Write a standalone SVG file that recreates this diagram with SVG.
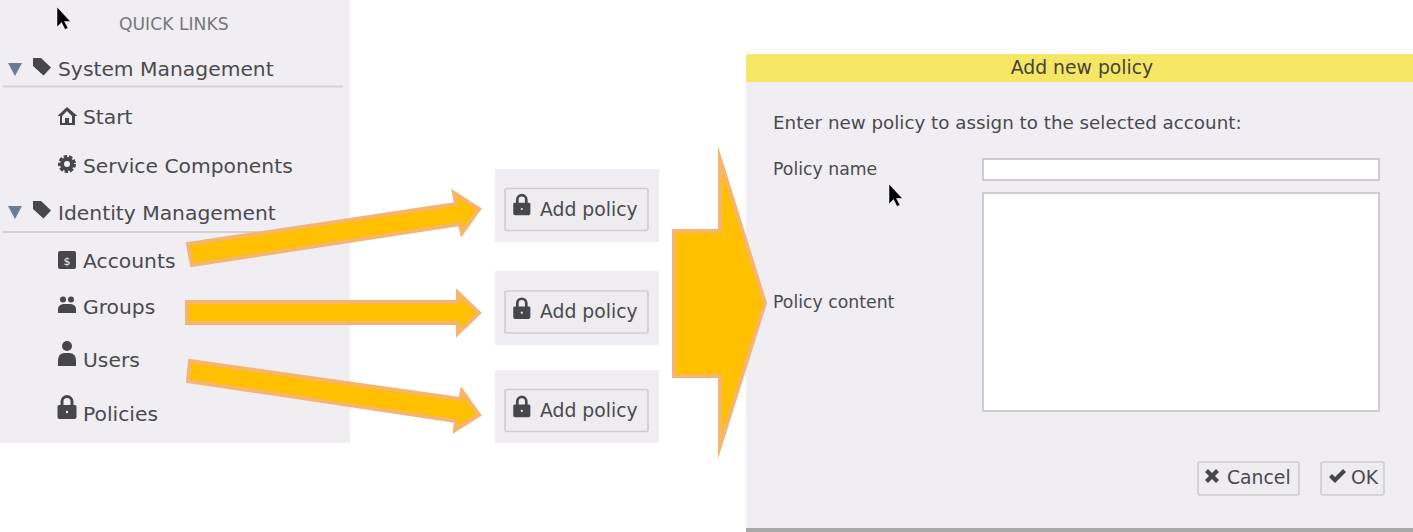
<svg xmlns="http://www.w3.org/2000/svg" width="1413" height="532" viewBox="0 0 1413 532">
<style>
text{font-family:"DejaVu Sans",sans-serif;fill:#4a4a4e;font-size:20.3px}
.s{font-size:18.800px}
.d{font-size:17.300px}
.icon{fill:#47474b}
.tri{fill:#6d7e93}
.panel{fill:#f0eef2}
.rule{stroke:#d2d2d2;stroke-width:2}
.btn{fill:#eeecef;stroke:#cdcdd0;stroke-width:1.6}
.arr{fill:#ffc000;stroke:#f6b56c;stroke-width:4;stroke-miterlimit:20}
.field{fill:#fff;stroke:#bdbdbd;stroke-width:1.4}
</style>
<defs>
<g id="lock"><path class="icon" d="M-6.500-3v-3.500a6.500 6.500 0 0 1 13 0V-3h1.500a1.500 1.500 0 0 1 1.500 1.500V9a2 2 0 0 1-2 2H-7.500a2 2 0 0 1-2-2V-1.500A1.500 1.500 0 0 1-8-3zM-3.500-3h7v-3.500a3.500 3.500 0 0 0-7 0z"/><circle cx="0" cy="4" r="1.200" fill="#efedf1"/></g>
<path id="tag" class="icon" d="M0 0h8l10 9.500-7.500 8L0 8z"/>
<path id="cursor" fill="#000" stroke="#fff" stroke-width=".5" d="M0 0v20l4.500-4.500 3.500 7 3-1.500-3.500-6.500h6z"/>
</defs>
<g id="sidebar">
<rect class="panel" x="0" y="0" width="350" height="443"/>
<use href="#cursor" x="57" y="7"/>
<text x="119" y="30" style="font-size:17.200px;fill:#77777b">QUICK LINKS</text>
<path class="tri" d="M8 63h14l-7 13z"/>
<use href="#tag" x="33" y="58"/>
<text x="58" y="76">System Management</text>
<line class="rule" x1="3" y1="86.500" x2="343" y2="86.500"/>
<path class="icon" d="M67 107l-9.500 9h2.500v9h15v-9h2.500zM62 123v-7l5-5 5 5v7h-3v-5h-4v5z"/>
<text x="83" y="124">Start</text>
<circle cx="67" cy="164" r="6.500" fill="none" stroke="#47474b" stroke-width="5" stroke-dasharray="3 1.500"/>
<circle cx="67" cy="164" r="5" fill="none" stroke="#47474b" stroke-width="4"/>
<text x="83" y="173">Service Components</text>
<path class="tri" d="M8 206h14l-7 13z"/>
<use href="#tag" x="33" y="201"/>
<text x="58" y="220">Identity Management</text>
<line class="rule" x1="3" y1="232" x2="343" y2="232"/>
<rect class="icon" x="58" y="251" width="18" height="18" rx="2"/>
<text x="67" y="265" text-anchor="middle" style="font-size:11px;fill:#efedf1">$</text>
<text x="83" y="268">Accounts</text>
<path class="icon" d="M58 313v-4q0-4 5-5h8q5 1 5 5v4z"/>
<circle class="icon" cx="63" cy="299.500" r="3"/><circle class="icon" cx="71" cy="299.500" r="3"/>
<text x="83" y="314">Groups</text>
<circle class="icon" cx="67" cy="346" r="5"/>
<path class="icon" d="M58 366v-6q0-6 6-7h6q6 1 6 7v6z"/>
<text x="83" y="367">Users</text>
<use href="#lock" x="67" y="408"/>
<text x="83" y="421">Policies</text>
</g>
<g id="add-policy-1">
<rect class="panel" x="495" y="169" width="164" height="73"/>
<rect class="btn" x="505" y="188.500" width="143" height="42" rx="2"/>
<use href="#lock" x="522" y="206" transform="translate(52 20) scale(.9)"/>
<text class="s" x="540" y="215.500">Add policy</text>
</g>
<g id="add-policy-2">
<rect class="panel" x="495" y="271" width="164" height="74"/>
<rect class="btn" x="505" y="291" width="143" height="42" rx="2"/>
<use href="#lock" x="522" y="309" transform="translate(52 31) scale(.9)"/>
<text class="s" x="540" y="318">Add policy</text>
</g>
<g id="add-policy-3">
<rect class="panel" x="495" y="370" width="164" height="73"/>
<rect class="btn" x="505" y="389.500" width="143" height="42" rx="2"/>
<use href="#lock" x="522" y="407" transform="translate(52 41) scale(.9)"/>
<text class="s" x="540" y="416.500">Add policy</text>
</g>
<g id="dialog">
<rect class="panel" x="746" y="54" width="667" height="478"/>
<rect x="746" y="528" width="667" height="4" fill="#a9a9a9"/>
<path fill="#f5e765" d="M746 82V58q0-4 4-4h663v28z"/>
<text x="1082" y="74" text-anchor="middle" class="s" style="fill:#45433a">Add new policy</text>
<text x="773" y="129" style="font-size:18.300px">Enter new policy to assign to the selected account:</text>
<text class="d" x="773" y="175">Policy name</text>
<rect class="field" x="983" y="159" width="396" height="21"/>
<use href="#cursor" x="889" y="184"/>
<text class="d" x="773" y="308">Policy content</text>
<rect class="field" x="983" y="193" width="396" height="218"/>
<g id="cancel-button">
<rect class="btn" x="1198" y="462" width="101" height="33" rx="2"/>
<path class="icon" d="M1205 472l3-3 4 4 4-4 3 3-4 4 4 4-3 3-4-4-4 4-3-3 4-4z"/>
<text class="s" x="1227" y="484">Cancel</text>
</g>
<g id="ok-button">
<rect class="btn" x="1321" y="462" width="63" height="33" rx="2"/>
<path class="icon" d="M1329 477l3-3 3 3 8-8 3 3-11 11z"/>
<text class="s" x="1351" y="484">OK</text>
</g>
</g>
<g id="connectors">
<path class="arr" d="M188 244L456 204 454 193 479 209 462 233 460 224 192 265z"/>
<path class="arr" d="M187 302H458V293L479 313 458 333V323H187z"/>
<path class="arr" d="M190 361L460 399 462 391 479 415 455 430 456 421 188 381z"/>
<path class="arr" d="M674 231H720V159L765 303 720 446V376H674z"/>
</g>
</svg>
